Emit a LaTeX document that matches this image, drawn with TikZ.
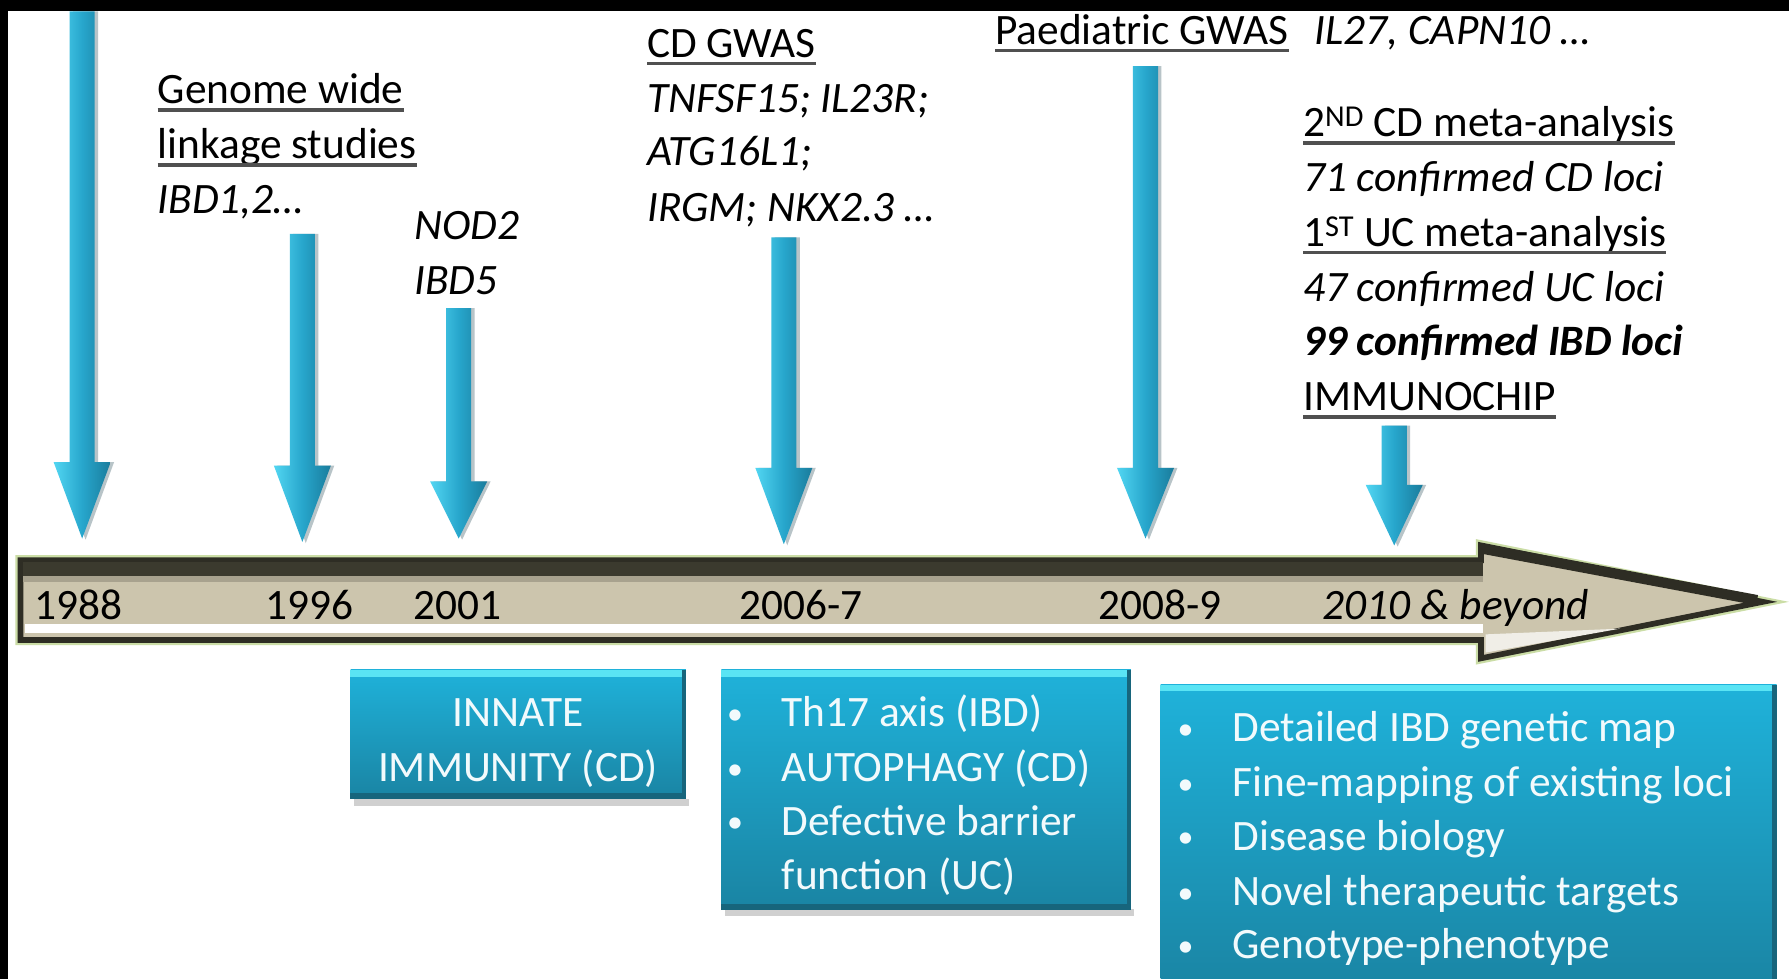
\documentclass[tikz,border=0pt]{standalone}
\usepackage{fontspec}
\setmainfont{Carlito}
\definecolor{arrowlight}{HTML}{52D6F2}
\definecolor{arrowmid}{HTML}{27A6CC}
\definecolor{arrowdark}{HTML}{1A7C9C}
\definecolor{arrowshadow}{HTML}{B8C4C8}
\definecolor{barfill}{HTML}{CCC5AD}
\definecolor{bardark}{HTML}{2E2D24}
\definecolor{barband}{HTML}{3B3A2E}
\definecolor{barmid}{HTML}{A8A28E}
\definecolor{barglow}{HTML}{CBDDA6}
\definecolor{boxtop}{HTML}{1FB2DA}
\definecolor{boxbot}{HTML}{1A84A3}
\definecolor{boxedge}{HTML}{17657C}
\definecolor{boxhl}{HTML}{5AE4F4}
\definecolor{boxshadow}{HTML}{D0D0D0}
\definecolor{ulgray}{HTML}{505050}
\definecolor{boxtext}{HTML}{F2FAFC}
\newcommand\fsz{\fontsize{38}{48}\selectfont}
\newcommand\ulin[1]{\setbox0\hbox{#1}\dp0=0pt\vtop{\copy0\nointerlineskip\kern4pt\hbox{\color{ulgray}\vrule width\wd0 height3pt depth0pt}}}
\newcommand\bul{\makebox[48pt][l]{\raisebox{2pt}{\fontsize{28}{28}\selectfont •}}}
\tikzset{
  lbl/.style={anchor=base west, inner sep=0pt, font=\fsz, text=black},
  yr/.style={anchor=base, inner sep=0pt, font=\fsz, text=black},
  bx/.style={anchor=north west, inner sep=0pt, top color=boxtop, bottom color=boxbot, draw=none},
  bxt/.style={anchor=base west, inner sep=0pt, font=\fsz, text=boxtext},
  arrowshade/.style={left color=arrowlight, right color=arrowdark, middle color=arrowmid},
}
\newcommand\blockarrow[5]{% name, xc, ytop, yhead, ytip
  \coordinate (#1top) at (#2,#3);
  \coordinate (#1tip) at (#2,#5);
  \fill[arrowshadow] (#2-8,#3) -- (#2+14,#3) -- (#2+14,#4) -- (#2+28,#4) -- (#2+3,#5+1) -- (#2-22,#4) -- (#2-8,#4) -- cycle;
  \shade[arrowshade] (#2-11,#3) -- (#2+11,#3) -- (#2+11,#4) -- (#2+25,#4) -- (#1tip) -- (#2-25,#4) -- (#2-11,#4) -- cycle;
}
\begin{document}
\begin{tikzpicture}[x=1pt,y=-1pt]
\useasboundingbox (0,0) rectangle (1568,858);
\clip (0,0) rectangle (1568,858);
\fill[white] (0,0) rectangle (1568,858);
\fill[black] (0,0) rectangle (1568,10);
\fill[black] (0,0) rectangle (7,858);

% timeline bar
\path[draw=barglow, line width=9pt, line join=miter]
  (18,491) -- (1298,491) -- (1298,478) -- (1545,527.5) -- (1298,577) -- (1298,561) -- (18,561) -- cycle;
\path[fill=barfill, draw=bardark, line width=5pt, line join=miter]
  (18,491) -- (1298,491) -- (1298,478) -- (1545,527.5) -- (1298,577) -- (1298,561) -- (18,561) -- cycle;
\fill[barband] (20,493) rectangle (1300,505);
\fill[barmid] (20,505) rectangle (1300,510);
\fill[white] (22,547) rectangle (1300,555);
\draw[bardark, line width=9pt] (1300,481) -- (1540,526);
\fill[white!70!barfill] (1302,556) -- (1302,572) -- (1420,551) -- cycle;

\node[yr] (t1988) at (69,543) {1988};
\node[yr] (t1996) at (271,543) {1996};
\node[yr] (t2001) at (401,543) {2001};
\node[yr] (t2006) at (702,543) {2006-7};
\node[yr] (t2008) at (1017,543) {2008-9};
\node[yr] (t2010) at (1276,543) {\textit{2010 \& beyond}};

% arrows
\blockarrow{a1}{72}{10}{405}{472}
\blockarrow{a2}{265}{205}{408}{475}
\blockarrow{a3}{402}{270}{422}{472}
\blockarrow{a4}{687}{208}{410}{477}
\blockarrow{a5}{1004}{58}{410}{472}
\blockarrow{a6}{1222}{373}{425}{478}

% labels
\node[lbl] (l1a) at (138,91) {\ulin{Genome wide}};
\node[lbl] (l1b) at (138,139) {\ulin{linkage studies}};
\node[lbl] (l1c) at (138,187) {\textit{IBD1,2…}};
\node[lbl] (l2a) at (363,210) {\textit{NOD2}};
\node[lbl] (l2b) at (363,258) {\textit{IBD5}};
\node[lbl] (l3a) at (567,50) {\ulin{CD GWAS}};
\node[lbl] (l3b) at (567,99) {\textit{TNFSF15; IL23R;}};
\node[lbl] (l3c) at (567,145) {\textit{ATG16L1;}};
\node[lbl] (l3d) at (567,194) {\textit{IRGM; NKX2.3 …}};
\node[lbl] (l4a) at (872,39) {\ulin{Paediatric GWAS}};
\node[lbl] (l4b) at (1152,39) {\textit{IL27, CAPN10 …}};
\node[lbl] (l5a) at (1142,120) {\ulin{2\textsuperscript{ND} CD meta-analysis}};
\node[lbl] (l5b) at (1142,168) {\textit{71 confirmed CD loci}};
\node[lbl] (l5c) at (1142,216) {\ulin{1\textsuperscript{ST} UC meta-analysis}};
\node[lbl] (l5d) at (1142,264) {\textit{47 confirmed UC loci}};
\node[lbl] (l5e) at (1142,312) {\textbf{\textit{99 confirmed IBD loci}}};
\node[lbl] (l5f) at (1142,360) {\ulin{IMMUNOCHIP}};

% boxes
\fill[boxshadow] (310,700) rectangle (604,706);
\fill[boxshadow] (635,797) rectangle (994,803);
\node[bx, minimum width=294pt, minimum height=113pt] (b1) at (307,587) {};
\node[bx, minimum width=359pt, minimum height=210pt] (b2) at (632,587) {};
\node[bx, minimum width=540pt, minimum height=270pt] (b3) at (1017,600) {};
\foreach \b in {b1,b2,b3}{
  \fill[boxhl] (\b.north west) rectangle ([yshift=-6pt]\b.north east);
  \fill[boxedge] ([yshift=5pt]\b.south west) rectangle (\b.south east);
  \fill[boxedge] ([xshift=-4pt]\b.north east) rectangle (\b.south east);
}

\node[bxt, anchor=base] (b1a) at (454,637) {INNATE};
\node[bxt, anchor=base] (b1b) at (454,685) {IMMUNITY (CD)};

\node[bxt] (b2a) at (637,637) {\bul Th17 axis (IBD)};
\node[bxt] (b2b) at (637,685) {\bul AUTOPHAGY (CD)};
\node[bxt] (b2c) at (637,732) {\bul Defective barrier};
\node[bxt] (b2d) at (637,780) {\hspace*{48pt}function (UC)};

\node[bxt] (b3a) at (1032,650) {\bul Detailed IBD genetic map};
\node[bxt] (b3b) at (1032,698) {\bul Fine-mapping of existing loci};
\node[bxt] (b3c) at (1032,745) {\bul Disease biology};
\node[bxt] (b3d) at (1032,794) {\bul Novel therapeutic targets};
\node[bxt] (b3e) at (1032,840) {\bul Genotype-phenotype};
\end{tikzpicture}
\end{document}
